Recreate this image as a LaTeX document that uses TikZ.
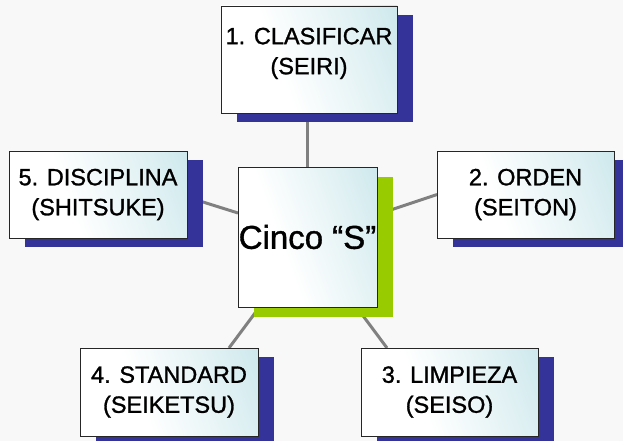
\documentclass[tikz,border=0pt]{standalone}
\usepackage{fontspec}
\setmainfont{Liberation Sans}
\newfontfamily\boxfont{Liberation Sans}[FakeBold=1.2]
\usetikzlibrary{shadows,calc}
\definecolor{boxteal}{HTML}{B5DDE3}
\definecolor{shadowblue}{HTML}{333399}
\definecolor{shadowgreen}{HTML}{99CC00}
\definecolor{linkgray}{HTML}{808080}
\definecolor{pagebg}{HTML}{F8F8F8}
\pgfdeclarehorizontalshading{boxshade}{100bp}{color(0bp)=(white); color(40bp)=(white); color(70bp)=(boxteal!45!white); color(100bp)=(boxteal)}
\pgfdeclarelayer{bglayer}
\pgfdeclarelayer{linklayer}
\pgfsetlayers{bglayer,linklayer,main}
\begin{document}
\begin{tikzpicture}[x=1pt,y=1pt,
  sbox/.style={draw=black!85, line width=0.8pt, shading=boxshade, shading angle=20,
    inner sep=0pt, outer sep=0pt, align=center, font=\boxfont\fontsize{23.5}{30}\selectfont},
  blueshadow/.style={general shadow={fill=shadowblue, shadow xshift=15.5pt, shadow yshift=-9pt}},
  greenshadow/.style={general shadow={fill=shadowgreen, shadow xshift=15.5pt, shadow yshift=-10pt}},
  link/.style={draw=linkgray, line width=3pt}]
\useasboundingbox (0,0) rectangle (623,-441);
\clip (0,0) rectangle (623,-441);
\begin{pgfonlayer}{bglayer}
\fill[pagebg] (0,0) rectangle (623,-441);
\end{pgfonlayer}

\node[sbox, blueshadow, minimum width=176pt, minimum height=107pt] (b1) at (309,-59.5) {1. CLASIFICAR\\(SEIRI)\\[-13pt]};
\node[sbox, blueshadow, minimum width=178pt, minimum height=87pt] (b5) at (98,-194.5) {5. DISCIPLINA\\(SHITSUKE)};
\node[sbox, blueshadow, minimum width=177pt, minimum height=87pt] (b2) at (525.5,-194.5) {2. ORDEN\\(SEITON)};
\node[sbox, blueshadow, minimum width=178pt, minimum height=88pt] (b4) at (169,-392) {4. STANDARD\\(SEIKETSU)};
\node[sbox, blueshadow, minimum width=177pt, minimum height=88pt] (b3) at (449.5,-392) {3. LIMPIEZA\\(SEISO)};
\node[sbox, greenshadow, minimum width=139pt, minimum height=140pt, font=\boxfont\fontsize{33}{40}\selectfont] (c) at (307.5,-237) {Cinco “S”};

\begin{pgfonlayer}{linklayer}
\draw[link] (c.north) -- (c.north |- b1.south);
\draw[link] ([yshift=-2.5pt]b5.east) -- ([yshift=24pt]c.west);
\draw[link] ([yshift=22.5pt]c.east) -- (b2.west);
\draw[link] ([xshift=-48pt]c.south) -- ([xshift=60pt]b4.north);
\draw[link] ([xshift=49pt]c.south) -- ([xshift=-62.5pt]b3.north);
\end{pgfonlayer}
\end{tikzpicture}
\end{document}
